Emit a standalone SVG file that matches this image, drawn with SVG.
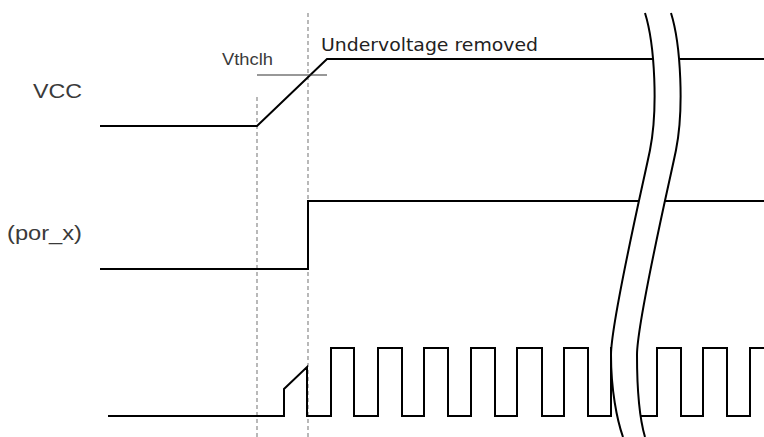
<svg xmlns="http://www.w3.org/2000/svg" width="764" height="437" viewBox="0 0 764 437">
  <style>
    .sig { fill: none; stroke: #000; stroke-width: 2; stroke-linejoin: miter; }
    .guide { fill: none; stroke: #8a8a8a; stroke-width: 1.2; stroke-dasharray: 4 3; }
    .thr { fill: none; stroke: #333; stroke-width: 1.2; }
    .brk { fill: none; stroke: #000; stroke-width: 2; }
    .lbl { font-family: "Liberation Sans", Arial, sans-serif; fill: #3a3a3a; }
    .note { font-family: "DejaVu Sans", Verdana, sans-serif; fill: #222; }
  </style>
  <rect width="764" height="437" fill="#fff"/>

  <g id="guides">
    <line class="guide" x1="257" y1="97" x2="257" y2="437"/>
    <line class="guide" x1="308" y1="13" x2="308" y2="437"/>
  </g>

  <g id="connectors">
    <path id="vcc-wave" class="sig" d="M100,126 H257 L327,59 H764"/>
    <path id="por-wave" class="sig" d="M100,269 H308 V201 H764"/>
    <path id="clk-wave" class="sig" d="M108,416 H284 V389 L307,367 V416 H331 V348 H354 V416 H378 V348 H402 V416 H424 V348 H448 V416 H471 V348 H495 V416 H517 V348 H542 V416 H564 V348 H588 V416 H611 V348 H634 V416 H657 V348 H681 V416 H703 V348 H727 V416 H750 V348 H764"/>
    <line id="vthclh-line" class="thr" x1="257" y1="75" x2="327" y2="75"/>
  </g>

  <g id="break">
    <path fill="#fff" stroke="none" d="M645,13 C655,45 658,110 650,150 C644,180 611,320 611,355 C611,390 617,420 623,437 L645,437 C640,420 637,390 637,355 C637,320 670,180 676,150 C684,110 681,45 671,13 Z"/>
    <path class="brk" d="M645,13 C655,45 658,110 650,150 C644,180 611,320 611,355 C611,390 617,420 623,437"/>
    <path class="brk" d="M671,13 C681,45 684,110 676,150 C670,180 637,320 637,355 C637,390 640,420 645,437"/>
  </g>

  <g id="node-vcc">
    <text class="lbl" x="33" y="98" font-size="20" textLength="49" lengthAdjust="spacingAndGlyphs">VCC</text>
  </g>
  <g id="node-por">
    <text class="lbl" x="7" y="240" font-size="20" textLength="75" lengthAdjust="spacingAndGlyphs">(por_x)</text>
  </g>
  <g id="node-vthclh">
    <text class="lbl" x="222" y="65" font-size="17" textLength="51" lengthAdjust="spacingAndGlyphs">Vthclh</text>
  </g>
  <g id="node-undervoltage">
    <text class="note" x="321" y="51" font-size="18.5" textLength="217" lengthAdjust="spacingAndGlyphs">Undervoltage removed</text>
  </g>
</svg>
